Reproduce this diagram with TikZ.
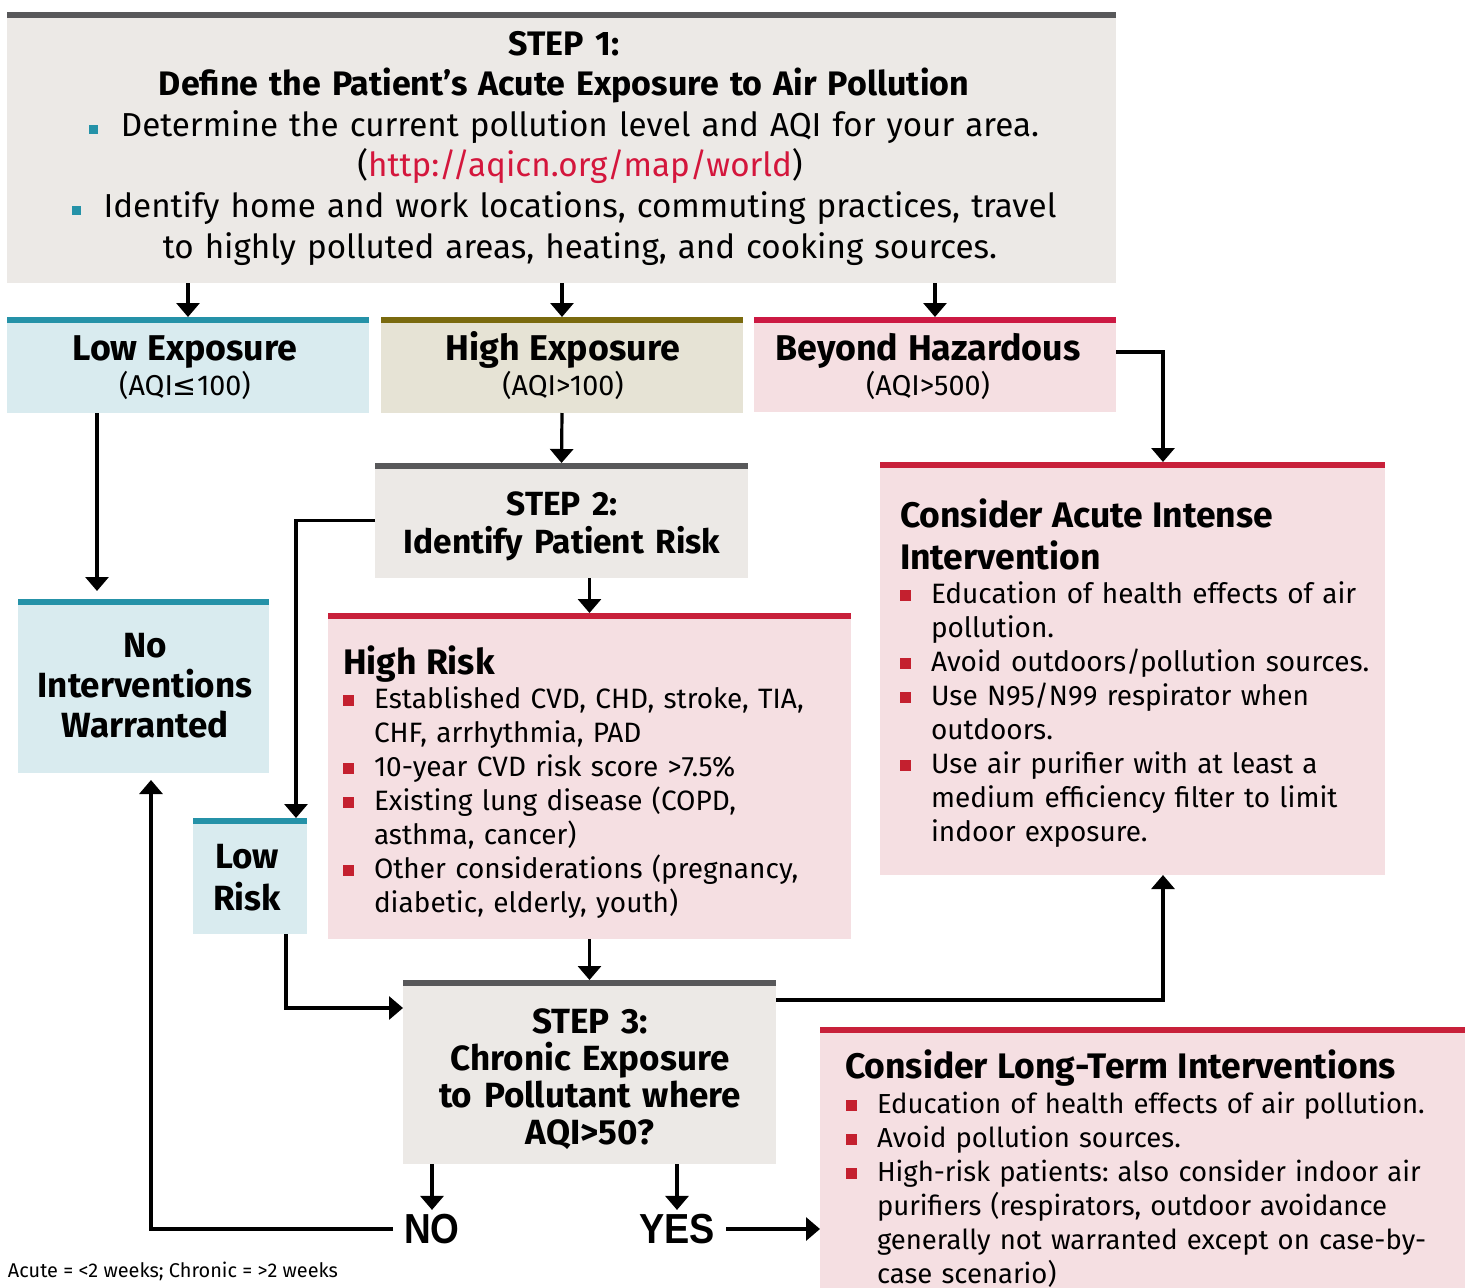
\documentclass[tikz,border=0pt]{standalone}
\usepackage{fontspec}
\setmainfont{Fira Sans}
\newfontfamily\condfont{Liberation Sans}
\newfontfamily\symfont{DejaVu Sans}
\usetikzlibrary{arrows.meta,calc}
\frenchspacing
\definecolor{stepgray}{HTML}{ECE9E6}
\definecolor{stepbar}{HTML}{58585A}
\definecolor{tealbar}{HTML}{2592A8}
\definecolor{tealfill}{HTML}{D9EBEF}
\definecolor{olivebar}{HTML}{7A6A0E}
\definecolor{olivefill}{HTML}{E6E3D5}
\definecolor{redbar}{HTML}{C8203A}
\definecolor{pinkbar}{HTML}{CC1943}
\definecolor{redfill}{HTML}{F5DFE2}
\definecolor{bulred}{HTML}{C4202F}
\definecolor{linkred}{HTML}{D4163C}
\newcommand\tbul{\textcolor{tealbar}{\rule[2pt]{9pt}{9pt}}\hspace{23pt}}
\newcommand\rbul{\leavevmode\llap{\textcolor{bulred}{\rule[2.5pt]{11pt}{11pt}}\hspace{20pt}}}
\newcommand\ttlline[1]{\hspace*{-31pt}#1\par}
\begin{document}
\begin{tikzpicture}[x=1pt,y=-1pt,
  box/.style={draw=none, inner sep=0pt, outer sep=0pt, anchor=north west},
  txt/.style={inner sep=0pt, outer sep=0pt, anchor=base},
  arr/.style={line width=3.2pt, -{Triangle[width=23pt,length=14pt]}},
  yesno/.style={inner xsep=11pt, inner ysep=4pt, font=\condfont\fontsize{42}{42}\selectfont\bfseries},
  bodytxt/.style={txt, anchor=base west, align=left, font=\fontsize{28}{34}\selectfont\frenchspacing}
]
\useasboundingbox (0,0) rectangle (1468,1288);

% boxes
\node[box, fill=stepgray, minimum width=1109pt, minimum height=271pt] (step1) at (7,12) {};
\node[box, fill=tealfill, minimum width=362pt, minimum height=96pt] (lowexp) at (7,317) {};
\node[box, fill=olivefill, minimum width=362pt, minimum height=96pt] (highexp) at (381,317) {};
\node[box, fill=redfill, minimum width=362pt, minimum height=95pt] (beyond) at (754,317) {};
\node[box, fill=stepgray, minimum width=373pt, minimum height=115pt] (step2) at (375,463) {};
\node[box, fill=redfill, minimum width=505pt, minimum height=413pt] (acute) at (880,462) {};
\node[box, fill=redfill, minimum width=523pt, minimum height=326pt] (highrisk) at (328,613) {};
\node[box, fill=tealfill, minimum width=251pt, minimum height=174pt] (nointer) at (18,599) {};
\node[box, fill=tealfill, minimum width=114pt, minimum height=116pt] (lowrisk) at (193,818) {};
\node[box, fill=stepgray, minimum width=373pt, minimum height=184pt] (step3) at (403,980) {};
\node[box, fill=redfill, minimum width=645pt, minimum height=262pt] (longterm) at (820,1027) {};

% top bars
\foreach \n/\c in {step1/stepbar, lowexp/tealbar, highexp/olivebar, beyond/pinkbar,
  step2/stepbar, acute/redbar, highrisk/redbar, nointer/tealbar, lowrisk/tealbar,
  step3/stepbar, longterm/redbar}
  \fill[\c] (\n.north west) rectangle ([yshift=-6pt]\n.north east);

% texts
\node[txt, text width=1100pt, align=center, font=\fontsize{33.2}{40.6}\selectfont\frenchspacing] (s1text) at (564,55)
 {{\fontsize{34}{40.6}\selectfont\bfseries STEP 1:}\\
  {\fontsize{34}{40.6}\selectfont\bfseries Define the Patient’s Acute Exposure to Air Pollution}\\
  \tbul Determine the current pollution level and AQI for your area.\\
  \hspace*{32pt}(\textcolor{linkred}{http://aqicn.org/map/world})\\
  \tbul Identify home and work locations, commuting practices, travel\\
  \hspace*{32pt}to highly polluted areas, heating, and cooking sources.};

\node[txt, text width=350pt, align=center, font=\fontsize{28.7}{35}\selectfont] (lowexpt) at (185,360)
 {{\fontsize{35.8}{35}\selectfont\bfseries Low Exposure}\\(AQI{\symfont ≤}100)};
\node[txt, text width=350pt, align=center, font=\fontsize{28.7}{35}\selectfont] (highexpt) at (563,360)
 {{\fontsize{35.8}{35}\selectfont\bfseries High Exposure}\\(AQI>100)};
\node[txt, text width=350pt, align=center, font=\fontsize{28.7}{35}\selectfont] (beyondt) at (928,360)
 {{\fontsize{35.8}{35}\selectfont\bfseries Beyond Hazardous}\\(AQI>500)};

\node[txt, text width=360pt, align=center, font=\fontsize{33.5}{38}\selectfont\bfseries] (step2t) at (562,515)
 {STEP 2:\\Identify Patient Risk};
\node[txt, text width=360pt, align=center, font=\fontsize{35}{37.3}\selectfont\bfseries] (step3t) at (590,1033)
 {STEP 3:\\Chronic Exposure\\to Pollutant where\\AQI>50?};
\node[txt, text width=240pt, align=center, font=\fontsize{35}{40}\selectfont\bfseries] (nointert) at (145,657)
 {No\\Interventions\\Warranted};
\node[txt, text width=110pt, align=center, font=\fontsize{35}{42}\selectfont\bfseries] (lowriskt) at (247,868)
 {Low\\Risk};

\node[bodytxt, text width=480pt] (highriskt) at (374,674)
 {{\fontsize{35.5}{34}\selectfont\bfseries\ttlline{High Risk}}
  \rbul Established CVD, CHD, stroke, TIA,\par
  CHF, arrhythmia, PAD\par
  \rbul 10-year CVD risk score >7.5\%\par
  \rbul Existing lung disease (COPD,\par
  asthma, cancer)\par
  \rbul Other considerations (pregnancy,\par
  diabetic, elderly, youth)\par};

\node[bodytxt, text width=460pt] (acutet) at (931,527)
 {{\fontsize{35.5}{42}\selectfont\bfseries\ttlline{Consider Acute Intense}\ttlline{Intervention}}
  \rbul Education of health effects of air\par
  pollution.\par
  \rbul Avoid outdoors/pollution sources.\par
  \rbul Use N95/N99 respirator when\par
  outdoors.\par
  \rbul Use air purifier with at least a\par
  medium efficiency filter to limit\par
  indoor exposure.\par};

\node[bodytxt, text width=590pt, font=\fontsize{27.5}{34}\selectfont] (longtermt) at (877,1078)
 {{\fontsize{35.5}{34}\selectfont\bfseries\hspace*{-32pt}Consider Long-Term Interventions\par}
  {\fontsize{27.5}{35}\selectfont\rbul Education of health effects of air pollution.\par}
  \rbul Avoid pollution sources.\par
  \rbul High-risk patients: also consider indoor air\par
  purifiers (respirators, outdoor avoidance\par
  generally not warranted except on case-by-\par
  case scenario)\par};

\node[yesno] (no) at (432,1229) {\scalebox{0.88}[1]{NO}};
\node[yesno] (yes) at (677,1229) {\scalebox{0.9}[1]{YES}};

\node[txt, anchor=base west, font=\fontsize{19.9}{21}\selectfont] (foot) at (8,1277)
 {Acute = <2 weeks; Chronic = >2 weeks};

% connectors
\draw[arr] (lowexp.north |- step1.south) -- (lowexp.north);
\draw[arr] (highexp.north |- step1.south) -- (highexp.north);
\draw[arr] (beyond.north |- step1.south) -- (beyond.north);
\draw[arr] (highexp.south) -- (step2.north);
\draw[arr] (highrisk.north |- step2.south) -- (highrisk.north);
\draw[arr] (step3.north |- highrisk.south) -- (step3.north);

\coordinate (c1) at ($(lowexp.south west)+(90,0)$);
\draw[arr, shorten >=8pt] (c1) -- (c1 |- nointer.north);

\coordinate (c2) at ($(lowrisk.north east)+(-11,0)$);
\draw[arr] (step2.west) -| (c2);

\coordinate (c3) at ($(lowrisk.south west)+(93,0)$);
\coordinate (c4) at ($(step3.north west)+(0,28)$);
\draw[arr] (c3) |- (c4);

\coordinate (c6) at ($(beyond.north east)+(0,35)$);
\coordinate (c5) at ($(acute.north west)+(283,0)$);
\draw[arr] (c6) -| (c5);

\coordinate (c7) at ($(step3.north east)+(0,20)$);
\coordinate (c8) at ($(acute.south west)+(283,0)$);
\draw[arr] (c7) -| (c8);

\draw[arr] (no.north |- step3.south) -- (no.north);
\draw[arr] (yes.north |- step3.south) -- (yes.north);

\coordinate (c9) at ($(nointer.south west)+(133,0)$);
\draw[arr, shorten >=7pt] (no.west) -| (c9);
\draw[arr] (yes.east) -- (yes.east -| longterm.west);
\end{tikzpicture}
\end{document}
